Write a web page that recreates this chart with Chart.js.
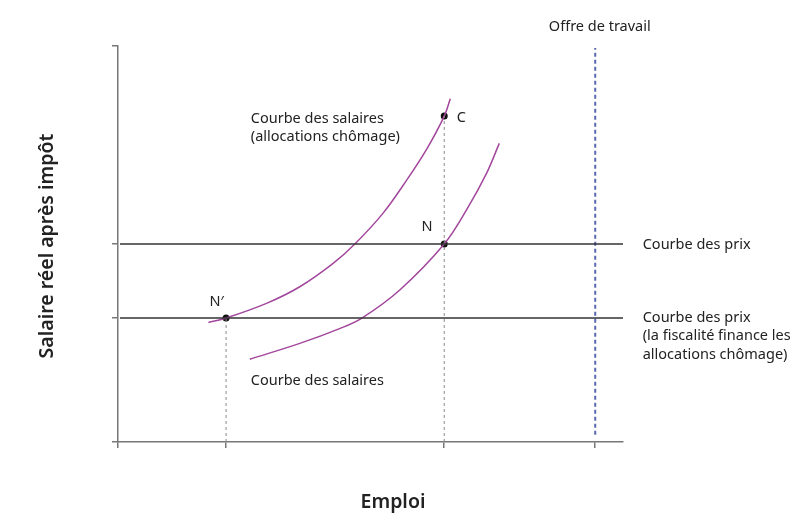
<!DOCTYPE html>
<html>
<head>
<meta charset="utf-8">
<script src="https://cdn.jsdelivr.net/npm/chart.js@4/dist/chart.umd.min.js"></script>
<style>
  html, body { margin: 0; padding: 0; background: #fff; }
  #wrap { width: 810px; height: 530px; }
</style>
</head>
<body>
<div id="wrap"><canvas id="labourChart"></canvas></div>
<script>
// axes : emploi (x) et salaire réel après impôt (y), unités arbitraires 0..100
const xTicks = [0, 21.4, 64.6, 94.5]
const yTicks = [0, 31.3, 50, 100]

// courbe des salaires avec allocations chômage
const wageUnempX = [17.9, 21.4, 29.4, 36.0, 42.6, 46.9, 52.5, 57.2, 61.1, 64.6, 65.8]
const wageUnempY = [30.2, 31.3, 35.0, 39.2, 45.1, 50.0, 57.8, 66.2, 73.9, 82.3, 86.7]

// courbe des salaires
const wageX = [26.1, 36.0, 44.0, 48.3, 55.8, 64.6, 69.1, 73.0, 75.5]
const wageY = [20.9, 24.9, 28.7, 31.3, 38.4, 50.0, 58.8, 67.9, 75.4]

// courbes des prix (horizontales)
const priceX = [0.4, 100]
const priceY = 50
const priceTaxY = 31.3

// offre de travail
const supplyX = 94.5
const supplyY = [1.8, 99.5]

// points N', N, C
const pointNames = ["N′", "N", "C"]
const pointX = [21.4, 64.6, 64.6]
const pointY = [31.3, 50, 82.3]

// texte des annotations (ancrage en unités de données)
const labels = [
  { text: ["Courbe des salaires", "(allocations chômage)"], x: 26.3, y: 81.7, align: "left" },
  { text: ["C"], x: 67.1, y: 81.8, align: "left" },
  { text: ["N"], x: 60.1, y: 54.2, align: "left" },
  { text: ["N′"], x: 18.1, y: 35.4, align: "left" },
  { text: ["Courbe des salaires"], x: 26.3, y: 15.5, align: "left" },
  { text: ["Offre de travail"], x: 95.4, y: 104.9, align: "center" },
  { text: ["Courbe des prix"], x: 103.9, y: 49.7, align: "left" },
  { text: ["Courbe des prix", "(la fiscalité finance les", "allocations chômage)"], x: 103.9, y: 31.4, align: "left" }
]

const yTitle = "Salaire réel après impôt"
const xTitle = "Emploi"

const toPts = (xs, ys) => xs.map((x, i) => ({ x: x, y: ys[i] }))

const curveColor = "#a2479c"
const lineColor = "#333333"
const axisColor = "#777777"

const annotations = {
  id: "annotations",
  afterDatasetsDraw(chart) {
    const { ctx, scales: { x, y }, chartArea } = chart
    ctx.save()
    ctx.fillStyle = "#222"
    ctx.textBaseline = "middle"
    ctx.font = "14.5px 'Noto Sans'"
    labels.forEach(l => {
      ctx.textAlign = l.align
      const px = x.getPixelForValue(l.x)
      const py = y.getPixelForValue(l.y)
      l.text.forEach((t, i) => ctx.fillText(t, px, py + i * 18.7))
    })

    // titres des axes
    ctx.font = "600 19.5px 'Noto Sans'"
    ctx.textAlign = "center"
    ctx.fillText(xTitle, chartArea.left + 275, chartArea.bottom + 60)
    ctx.translate(chartArea.left - 71, (chartArea.top + chartArea.bottom) / 2 + 2)
    ctx.rotate(-Math.PI / 2)
    ctx.fillText(yTitle, 0, 0)
    ctx.restore()
  }
}

new Chart(document.getElementById("labourChart"), {
  type: "scatter",
  data: {
    datasets: [
      {
        data: toPts(priceX, [priceY, priceY]),
        showLine: true, borderColor: lineColor, borderWidth: 1.5, pointRadius: 0
      },
      {
        data: toPts(priceX, [priceTaxY, priceTaxY]),
        showLine: true, borderColor: lineColor, borderWidth: 1.5, pointRadius: 0
      },
      {
        data: toPts([pointX[0], pointX[0]], [0, pointY[0]]),
        showLine: true, borderColor: "#8a8a8a", borderWidth: 1, borderDash: [3, 3], pointRadius: 0
      },
      {
        data: toPts([pointX[2], pointX[2]], [0, pointY[2]]),
        showLine: true, borderColor: "#8a8a8a", borderWidth: 1, borderDash: [3, 3], pointRadius: 0
      },
      {
        data: toPts([supplyX, supplyX], supplyY),
        showLine: true, borderColor: "#5a68b0", borderWidth: 2, borderDash: [4, 3], pointRadius: 0
      },
      {
        data: toPts(wageUnempX, wageUnempY),
        showLine: true, borderColor: curveColor, borderWidth: 1.5, pointRadius: 0,
        tension: 0.35
      },
      {
        data: toPts(wageX, wageY),
        showLine: true, borderColor: curveColor, borderWidth: 1.5, pointRadius: 0,
        tension: 0.35
      },
      {
        data: toPts(pointX, pointY),
        pointRadius: 3.5, pointBackgroundColor: "#111", pointBorderWidth: 0
      }
    ]
  },
  options: {
    responsive: true,
    maintainAspectRatio: false,
    animation: false,
    layout: { padding: { left: 0, top: 46, right: 187, bottom: 0 } },
    plugins: {
      legend: { display: false },
      tooltip: { enabled: false }
    },
    scales: {
      x: {
        type: "linear", min: 0, max: 100,
        afterBuildTicks: s => { s.ticks = xTicks.map(v => ({ value: v })) },
        afterFit: s => { s.height = 88 },
        ticks: { display: false },
        grid: { drawOnChartArea: false, drawTicks: true, tickLength: 6, color: axisColor, lineWidth: 1.5 },
        border: { display: true, color: axisColor, width: 1.5 }
      },
      y: {
        type: "linear", min: 0, max: 100,
        afterBuildTicks: s => { s.ticks = yTicks.map(v => ({ value: v })) },
        afterFit: s => { s.width = 118 },
        ticks: { display: false },
        grid: { drawOnChartArea: false, drawTicks: true, tickLength: 6, color: axisColor, lineWidth: 1.5 },
        border: { display: true, color: axisColor, width: 1.5 }
      }
    }
  },
  plugins: [annotations]
})
</script>
</body>
</html>
